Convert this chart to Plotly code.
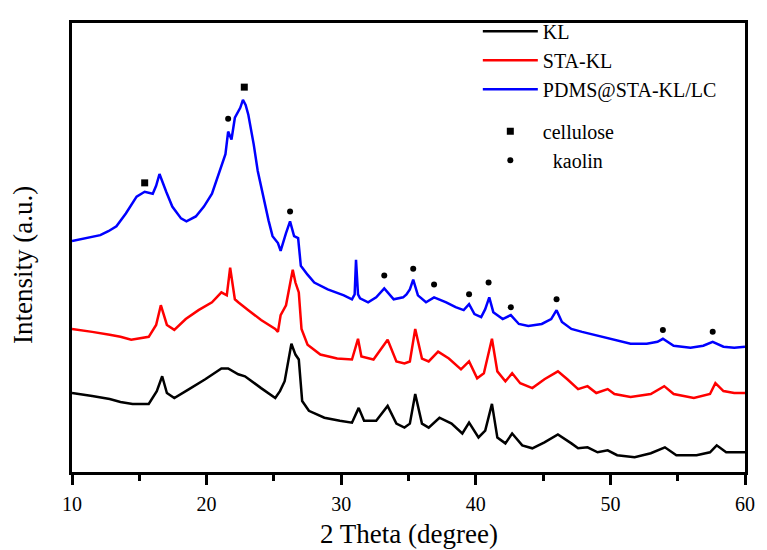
import plotly.graph_objects as go

# XRD patterns: 2-theta (degree) and intensity (a.u.), curves stacked with offsets
kl_2theta = [10.0, 10.8, 11.5, 12.8, 13.6, 14.5, 15.7, 16.3, 16.7, 17.05, 17.6, 18.7, 19.9, 21.1, 21.6,
             22.35, 22.85, 24.05, 25.1, 25.45, 25.8, 26.3, 26.6, 26.85, 27.1, 27.6, 28.75, 29.9, 30.8,
             31.3, 31.7, 32.6, 33.45, 34.1, 34.7, 35.1, 35.5, 36.0, 36.5, 37.3, 38.2, 39.0, 39.5, 40.2,
             40.7, 41.2, 41.6, 42.2, 42.7, 43.45, 44.2, 45.1, 46.1, 47.1, 47.6, 48.3, 49.05, 49.8, 50.5,
             51.8, 53.0, 54.05, 54.9, 56.4, 57.4, 57.9, 58.6, 59.2, 60.0]
kl_intensity = [80, 78, 77, 74, 71, 69, 69, 82, 97, 80, 75, 84, 94, 105, 105,
                99, 97, 85, 75, 82, 92, 130, 119, 114, 72, 62, 55, 52, 50,
                65, 52, 52, 67, 49, 45, 49, 79, 49, 45, 55, 49, 39, 50, 35,
                42, 69, 35, 29, 39, 27, 24, 30, 38, 29, 24, 25, 20, 22, 17,
                15, 19, 25, 17, 17, 20, 27, 20, 20, 20]

stakl_2theta = [10.0, 10.8, 11.5, 12.8, 13.6, 14.4, 15.1, 15.7, 16.25, 16.6, 17.05, 17.6, 18.45, 19.4,
                20.4, 21.1, 21.5, 21.75, 22.1, 22.35, 23.1, 24.05, 25.1, 25.3, 25.5, 25.9, 26.4, 26.6,
                26.85, 27.05, 27.5, 28.45, 29.7, 30.8, 31.25, 31.5, 32.4, 33.45, 34.1, 34.7, 35.1, 35.5,
                36.0, 36.5, 37.2, 38.0, 38.9, 39.5, 40.1, 40.6, 41.2, 41.6, 42.2, 42.7, 43.3, 44.2, 45.1,
                46.1, 46.8, 47.6, 48.3, 48.95, 49.8, 50.3, 51.5, 53.0, 54.0, 54.7, 56.2, 57.4, 57.8,
                58.4, 59.2, 60.0]
stakl_intensity = [145, 143, 142, 139, 137, 134, 136, 137, 149, 169, 149, 144, 155, 164,
                   172, 182, 179, 207, 175, 172, 164, 154, 145, 142, 159, 169, 205, 192,
                   182, 145, 129, 119, 115, 114, 135, 117, 114, 134, 112, 110, 112, 145,
                   115, 112, 122, 115, 104, 112, 95, 100, 135, 102, 92, 100, 90, 85, 94,
                   102, 94, 84, 87, 80, 84, 79, 76, 79, 87, 79, 75, 79, 90,
                   82, 80, 80]

pdms_2theta = [10.0, 10.8, 11.5, 12.1, 12.7, 13.3, 14.0, 14.8, 15.4, 16.0, 16.25, 16.5, 17.0, 17.45,
               18.1, 18.5, 19.2, 19.8, 20.4, 20.9, 21.4, 21.6, 21.85, 22.1, 22.5, 22.7, 22.9, 23.1,
               23.5, 23.8, 24.2, 24.6, 24.9, 25.3, 25.5, 25.6, 25.9, 26.2, 26.5, 26.8, 27.0, 27.5,
               28.0, 29.0, 30.2, 30.8, 31.0, 31.1, 31.25, 31.4, 32.0, 32.6, 33.2, 33.9, 34.6, 34.85,
               35.1, 35.35, 35.7, 36.3, 36.9, 37.8, 38.5, 39.1, 39.5, 39.9, 40.4, 40.7, 41.0, 41.3,
               42.0, 42.6, 43.2, 43.9, 44.9, 45.6, 46.0, 46.4, 47.1, 47.9, 49.05, 50.3, 51.5, 52.7,
               53.5, 53.9, 54.7, 55.95, 56.9, 57.6, 58.4, 59.2, 60.0]
pdms_intensity = [234, 236, 238, 240, 244, 249, 262, 279, 284, 282, 290, 302, 284, 269,
                  257, 254, 259, 269, 282, 302, 322, 345, 337, 359, 369, 377, 372, 362,
                  332, 305, 279, 255, 239, 232, 224, 229, 242, 254, 239, 237, 209, 200,
                  192, 185, 179, 175, 180, 215, 180, 176, 172, 177, 186, 175, 177, 180,
                  185, 195, 179, 172, 177, 172, 167, 164, 170, 160, 157, 165, 177, 162,
                  155, 159, 150, 148, 150, 155, 164, 152, 145, 142, 138, 134, 130, 130,
                  132, 135, 128, 126, 128, 132, 127, 126, 127]

# Phase markers placed above the PDMS@STA-KL/LC pattern
cellulose_2theta = [15.4, 22.8]
cellulose_y = [293, 390]
kaolin_2theta = [21.6, 26.2, 33.2, 35.35, 36.9, 39.5, 40.95, 42.6, 46.0, 53.9, 57.6]
kaolin_y = [358, 264, 199, 206, 190, 180, 192, 167, 175, 144, 142]

x_ticks = [10, 20, 30, 40, 50, 60]

FONT = "Liberation Serif"

fig = go.Figure()
fig.add_trace(go.Scatter(x=kl_2theta, y=kl_intensity, mode="lines", name="KL",
                         line=dict(color="#000000", width=2.5), legendgroup="a"))
fig.add_trace(go.Scatter(x=stakl_2theta, y=stakl_intensity, mode="lines", name="STA-KL",
                         line=dict(color="#ff0000", width=2.5), legendgroup="a"))
fig.add_trace(go.Scatter(x=pdms_2theta, y=pdms_intensity, mode="lines", name="PDMS@STA-KL/LC",
                         line=dict(color="#0000ff", width=2.5), legendgroup="a"))
fig.add_trace(go.Scatter(x=cellulose_2theta, y=cellulose_y, mode="markers", name="cellulose",
                         marker=dict(symbol="square", size=7, color="#000000"), legendgroup="b"))
fig.add_trace(go.Scatter(x=kaolin_2theta, y=kaolin_y, mode="markers", name="\u00a0\u00a0kaolin",
                         marker=dict(symbol="circle", size=6, color="#000000"), legendgroup="b"))

axis_common = dict(showline=True, linecolor="#000000", linewidth=2.5, mirror=True,
                   showgrid=False, zeroline=False)

fig.update_xaxes(range=[10, 60], tickvals=x_ticks, ticks="outside", ticklen=10, tickwidth=2.5,
                 tickcolor="#000000", tickfont=dict(family=FONT, size=20, color="#000000"),
                 ticklabelstandoff=2,
                 minor=dict(dtick=5, tick0=10, ticks="outside", ticklen=6, tickwidth=2.5,
                            tickcolor="#000000"),
                 **axis_common)
fig.update_yaxes(range=[0, 455], showticklabels=False, ticks="", **axis_common)

fig.add_annotation(text="2 Theta (degree)", xref="paper", yref="paper", x=0.5, y=-0.138,
                   xanchor="center", yanchor="middle", showarrow=False,
                   font=dict(family=FONT, size=27, color="#000000"))
fig.add_annotation(text="Intensity (a.u.)", xref="paper", yref="paper", x=-0.072, y=0.46,
                   xanchor="center", yanchor="middle", textangle=-90, showarrow=False,
                   font=dict(family=FONT, size=27, color="#000000"))

fig.update_layout(
    width=767, height=550,
    margin=dict(l=72, r=15, t=17, b=78),
    paper_bgcolor="#ffffff", plot_bgcolor="#ffffff",
    font=dict(family=FONT, color="#000000"),
    showlegend=True,
    legend=dict(x=0.603, y=1.025, xanchor="left", yanchor="top", bgcolor="rgba(0,0,0,0)",
                font=dict(family=FONT, size=20, color="#000000"), itemwidth=55,
                traceorder="grouped", tracegroupgap=13),
)

fig.write_html("out.html")
